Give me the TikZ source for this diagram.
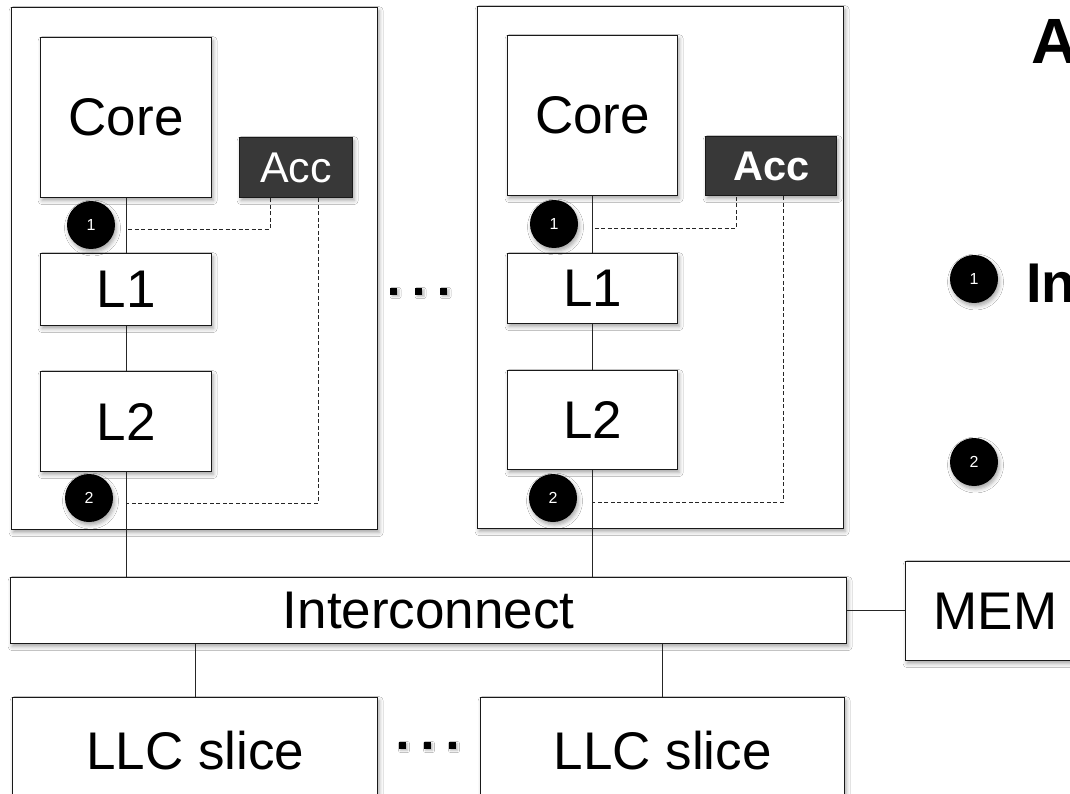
\documentclass[tikz,border=0pt]{standalone}
\usepackage{fontspec}
\setmainfont{Liberation Sans}
\usetikzlibrary{shadows.blur,calc}
\begin{document}
\begin{tikzpicture}[x=1pt,y=-1pt,
  shd/.style={blur shadow={shadow xshift=1.5pt,shadow yshift=-3pt,shadow blur radius=4pt,shadow opacity=35}},
  box/.style={draw=black!90,line width=1.3pt,fill=white,shd,inner sep=0pt,anchor=north west,font=\fontsize{53}{53}\selectfont},
  accbox/.style={box,fill=black!78,text=white,font=\fontsize{43}{43}\selectfont},
  num/.style={circle,fill=black,text=white,minimum size=48pt,inner sep=0pt,font=\fontsize{16}{16}\selectfont,shd},
  wire/.style={line width=0.9pt,black!85},
  dline/.style={line width=0.9pt,dash pattern=on 4pt off 2.5pt,black!85},
  sq/.style={fill=black,minimum size=7pt,inner sep=0pt,blur shadow={shadow xshift=2pt,shadow yshift=-2pt,shadow blur radius=2pt,shadow opacity=30}}
]
\useasboundingbox (0,0) rectangle (1070,794);
\fill[white] (0,0) rectangle (1070,794);
\clip (0,0) rectangle (1070,794);

% ---------- tile A ----------
\node[box,minimum width=366pt,minimum height=522pt] (tileA) at (11,7) {};
\node[box,minimum width=171pt,minimum height=160pt] (coreA) at (40,37) {Core};
\node[accbox,minimum width=113pt,minimum height=60pt] (accA) at (239,137) {Acc};
\node[box,minimum width=171pt,minimum height=72pt] (l1A) at (40,253) {L1};
\node[box,minimum width=171pt,minimum height=100pt] (l2A) at (40,371) {L2};

% ---------- tile B ----------
\node[box,minimum width=366pt,minimum height=522pt] (tileB) at (477,6) {};
\node[box,minimum width=170pt,minimum height=160pt] (coreB) at (507,35) {Core};
\node[accbox,minimum width=131pt,minimum height=59pt,font=\bfseries\fontsize{41.5}{41.5}\selectfont] (accB) at (705,136) {Acc};
\node[box,minimum width=170pt,minimum height=70pt] (l1B) at (507,253) {L1};
\node[box,minimum width=170pt,minimum height=99pt] (l2B) at (507,370) {L2};

% ---------- shared ----------
\node[box,minimum width=836pt,minimum height=66pt] (ic) at (10,577) {Interconnect};
\node[box,minimum width=180pt,minimum height=99pt] (mem) at (905,561) {MEM};
\node[box,minimum width=365pt,minimum height=106pt] (llcA) at (12,697) {LLC slice};
\node[box,minimum width=364pt,minimum height=106pt] (llcB) at (480,697) {LLC slice};

% ---------- solid connectors ----------
\draw[wire] (coreA.south) -- (l1A.north);
\draw[wire] (l1A.south) -- (l2A.north);
\draw[wire] (l2A.south) -- (l2A.south |- ic.north);
\draw[wire] (coreB.south) -- (l1B.north);
\draw[wire] (l1B.south) -- (l2B.north);
\draw[wire] (l2B.south) -- (l2B.south |- ic.north);
\draw[wire] (llcA.north) -- (llcA.north |- ic.south);
\draw[wire] (llcB.north) -- (llcB.north |- ic.south);
\draw[wire] (ic.east) -- (ic.east -| mem.west);

% ---------- dashed connectors ----------
\draw[dline] ($(coreA.south)+(2,31)$) -| ($(accA.south west)+(31,0)$);
\draw[dline] ($(accA.south west)+(79,0)$) |- ($(l2A.south)+(0,31)$);
\draw[dline] ($(coreB.south)+(2,32)$) -| ($(accB.south west)+(31,0)$);
\draw[dline] ($(accB.south west)+(78,0)$) |- ($(l2B.south)+(0,32)$);

% ---------- numbered markers ----------
\node[num] (m1A) at (91,225) {1};
\node[num] (m2A) at (89,498) {2};
\node[num] (m1B) at (554,224) {1};
\node[num] (m2B) at (553,498) {2};
\node[num] (m1R) at (974,279) {1};
\node[num] (m2R) at (974,462) {2};

% ---------- ellipsis dots ----------
\node[sq] (dt1) at (393.5,291) {};
\node[sq] (dt2) at (418.5,291) {};
\node[sq] (dt3) at (443.5,291) {};
\node[sq] (db1) at (402,745) {};
\node[sq] (db2) at (427,745) {};
\node[sq] (db3) at (452,745) {};

% ---------- right side text (cut off by the picture edge, as in the reference) ----------
\node[anchor=base west,inner sep=0pt,font=\bfseries\fontsize{64}{64}\selectfont] (tA) at (1031,64) {A};
\node[anchor=base west,inner sep=0pt,font=\bfseries\fontsize{56}{56}\selectfont] (tIn) at (1026,302) {In};
\end{tikzpicture}
\end{document}
